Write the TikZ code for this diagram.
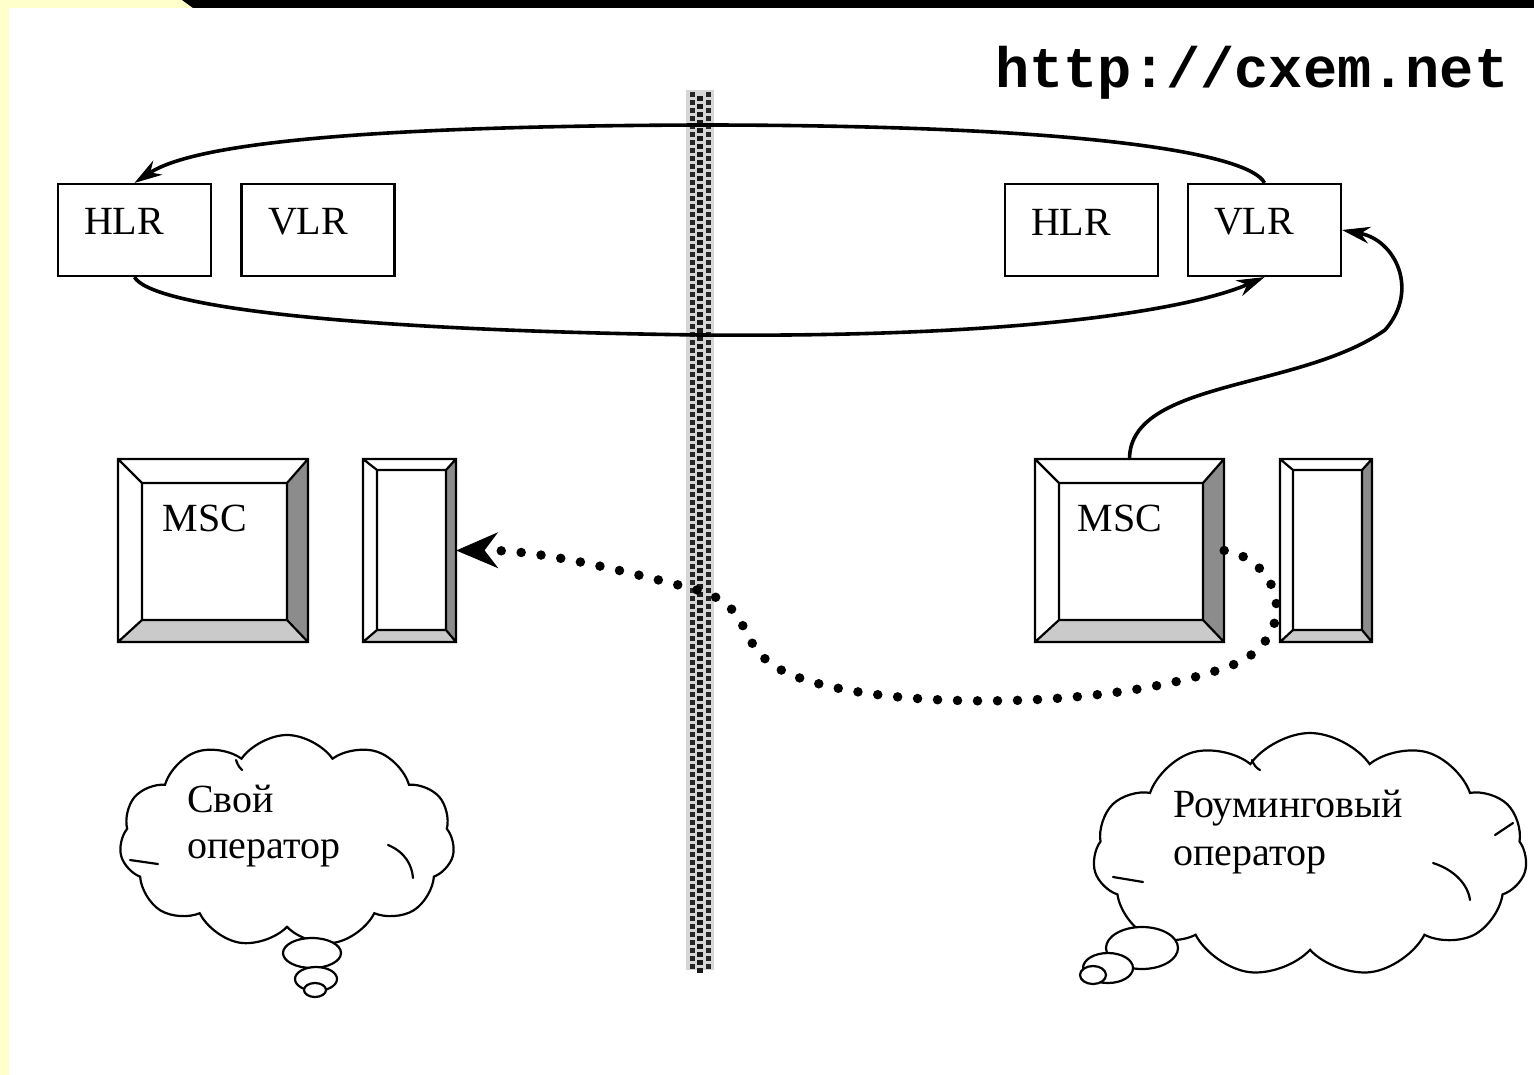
\documentclass[tikz,border=0pt]{standalone}
\usepackage{fontspec}
\setmainfont{Liberation Serif}
\newfontfamily\urlfont{Liberation Mono}
\usetikzlibrary{arrows.meta,shapes.symbols,shapes.geometric,calc}
\definecolor{pale}{HTML}{FFFFCC}
\definecolor{bevdark}{HTML}{8C8C8C}
\definecolor{bevlight}{HTML}{CACACA}
\newcommand\mybevel[8]{%
 \fill[white] (#1,#2) rectangle (#3,#4);
 \fill[bevdark] (#3,#2) -- (#3,#4) -- (#7,#8) -- (#7,#6) -- cycle;
 \fill[bevlight] (#1,#4) -- (#3,#4) -- (#7,#8) -- (#5,#8) -- cycle;
 \draw[line width=2.2pt,line join=miter] (#1,#2) rectangle (#3,#4) (#5,#6) rectangle (#7,#8)
   (#1,#2) -- (#5,#6) (#3,#2) -- (#7,#6) (#3,#4) -- (#7,#8) (#1,#4) -- (#5,#8);
}
\begin{document}
\begin{tikzpicture}[x=1pt,y=-1pt,
  box/.style={draw,line width=2.2pt,minimum width=153pt,minimum height=92pt,inner sep=0pt},
  frame/.style={inner sep=0pt,rectangle},
  lbl/.style={font=\fontsize{40}{46}\selectfont,inner sep=0pt},
  conn/.style={line width=3.6pt,-{Stealth[length=28pt,width=17pt,line width=1pt]}},
  dotconn/.style={line width=9.5pt,line cap=round,dash pattern=on 0pt off 20pt,
    -{Stealth[length=42pt,width=36pt,line width=1pt]}},
  thought/.style={cloud,draw,line width=2.2pt,cloud puffs=11,cloud puff arc=110,
    cloud ignores aspect,fill=white,inner sep=0pt},
  bubble/.style={ellipse,draw,line width=2.2pt,fill=white,inner sep=0pt},
  puffline/.style={line width=2.2pt,line cap=round}]
\useasboundingbox (0,0) rectangle (1534,1075);
\fill[white] (0,0) rectangle (1534,1075);
\fill[pale] (0,0) rectangle (9,1075);
\fill[pale] (0,0) -- (182,0) -- (193,8) -- (0,8) -- cycle;
\fill[black] (182,0) -- (1534,0) -- (1534,8) -- (193,8) -- cycle;

% dotted separator band
\fill[black!16] (686,90) rectangle (714,970);
\foreach \yy in {92,100,...,964} {
  \fill[black!85] (690,\yy) rectangle +(5,5);
  \fill[black!85] (706,\yy) rectangle +(5,5);
  \fill[black!90] (697,\yy+4) rectangle +(6,5);
}

% URL
\node[anchor=base west,inner sep=0pt,font=\fontsize{57}{60}\selectfont\urlfont\bfseries] (url) at (995,88) {http://cxem.net};

% HLR / VLR boxes
\node[box] (hlrL) at (134.5,230) {};
\node[box] (vlrL) at (318,230) {};
\node[box] (hlrR) at (1081.5,230) {};
\node[box] (vlrR) at (1264.5,230) {};
\node[lbl] (thl) at (124,221) {HLR};
\node[lbl] (tvl) at (308,222) {VLR};
\node[lbl] (thr) at (1071,222) {HLR};
\node[lbl] (tvr) at (1254,222) {VLR};

% MSC and small equipment boxes
\mybevel{118}{459}{308}{642}{142}{483}{287}{620}
\mybevel{363}{459}{456}{642}{377}{470}{446}{630}
\mybevel{1035}{459}{1224}{642}{1059}{483}{1203}{620}
\mybevel{1280}{459}{1372}{642}{1293}{470}{1362}{630}
\node[frame,minimum width=190pt,minimum height=183pt] (mscL) at (213,550.5) {};
\node[frame,minimum width=93pt,minimum height=183pt] (smallL) at (409.5,550.5) {};
\node[frame,minimum width=189pt,minimum height=183pt] (mscR) at (1129.5,550.5) {};
\node[frame,minimum width=92pt,minimum height=183pt] (smallR) at (1326,550.5) {};
\node[lbl] (tml) at (205,518) {MSC};
\node[lbl] (tmr) at (1120,518) {MSC};

% loop between registers
\draw[conn] (vlrR.north) .. controls (1250,155) and (1100,125) .. (700,125)
  .. controls (400,126) and (200,140) .. (hlrL.north);
\draw[conn] (hlrL.south) .. controls (150,305) and (330,330) .. (700,335)
  .. controls (1050,338) and (1200,305) .. (vlrR.south);
% MSC -> VLR
\draw[conn] (mscR.north) .. controls (1130,380) and (1300,390) .. (1385,330)
  .. controls (1420,290) and (1395,240) .. (vlrR.east);
% dotted route
\draw[dotconn] (mscR.east) .. controls (1280,560) and (1300,630) .. (1240,662)
  .. controls (1120,712) and (870,712) .. (785,672)
  .. controls (730,645) and (760,605) .. (690,588)
  .. controls (620,570) and (540,550) .. (smallL.east);

% clouds
\node[thought,minimum width=335pt,minimum height=212pt] (cloudL) at (287,841) {};
\node[bubble,minimum width=58pt,minimum height=30pt] (bL1) at (312,953) {};
\node[bubble,minimum width=42pt,minimum height=24pt] (bL2) at (316,979) {};
\node[bubble,minimum width=22pt,minimum height=14pt] (bL3) at (315,990) {};
\draw[puffline] (388,845) .. controls (405,852) and (412,865) .. (413,878);
\draw[puffline] (130,860) -- (158,864);
\draw[puffline] (236,760) .. controls (238,766) and (240,768) .. (242,770);

\node[thought,minimum width=434pt,minimum height=244pt] (cloudR) at (1310,855) {};
\node[bubble,minimum width=72pt,minimum height=42pt] (bR1) at (1142,948) {};
\node[bubble,minimum width=50pt,minimum height=30pt] (bR2) at (1108,968) {};
\node[bubble,minimum width=26pt,minimum height=18pt] (bR3) at (1093,975) {};
\draw[puffline] (1433,863) .. controls (1455,870) and (1468,885) .. (1470,900);
\draw[puffline] (1113,877) -- (1143,882);
\draw[puffline] (1495,835) -- (1513,823);
\draw[puffline] (1252,760) .. controls (1254,765) and (1256,768) .. (1260,770);

\node[lbl,anchor=base west] (c1a) at (187,812) {Свой};
\node[lbl,anchor=base west] (c1b) at (187,858) {оператор};
\node[lbl,anchor=base west] (c2a) at (1173,817) {Роуминговый};
\node[lbl,anchor=base west] (c2b) at (1173,865) {оператор};
\end{tikzpicture}
\end{document}
